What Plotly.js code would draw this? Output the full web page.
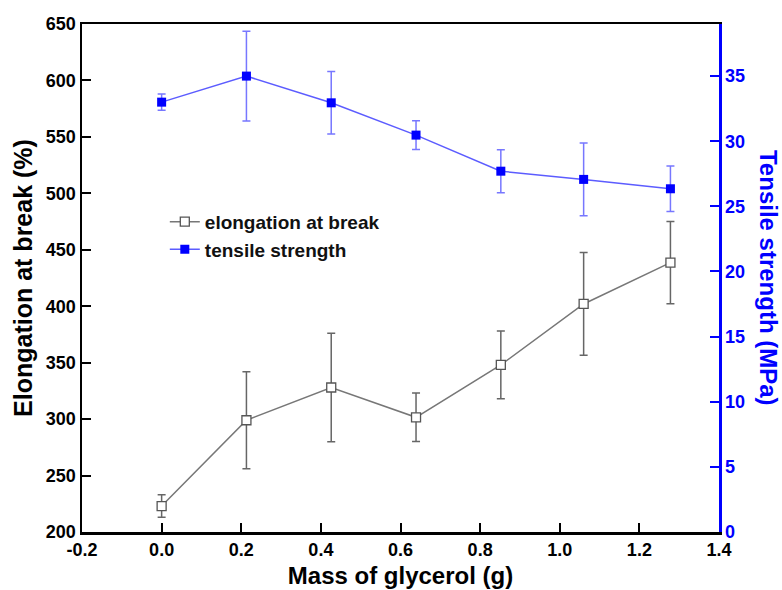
<!DOCTYPE html>
<html>
<head>
<meta charset="utf-8">
<script src="https://cdn.plot.ly/plotly-3.0.1.min.js"></script>
<style>html,body{margin:0;padding:0;background:#fff;}#chart{width:782px;height:590px;}</style>
</head>
<body>
<div id="chart"></div>
<script>
// Data
const mass = [0, 0.213, 0.426, 0.639, 0.852, 1.06, 1.278];
const elongation = [223, 299, 328, 301.6, 348, 402, 438.6];
const elongationErr = [10, 43, 48, 21.5, 30, 45.5, 36.4];
const tensile = [33.0, 35.0, 32.95, 30.47, 27.7, 27.07, 26.35];
const tensileErr = [0.62, 3.45, 2.4, 1.1, 1.65, 2.8, 1.74];

const leftTicks = [200, 250, 300, 350, 400, 450, 500, 550, 600, 650];
const rightTicks = [0, 5, 10, 15, 20, 25, 30, 35];
const xTicks = [-0.2, 0.0, 0.2, 0.4, 0.6, 0.8, 1.0, 1.2, 1.4];

const FONT = 'Liberation Sans, Arial, sans-serif';
const BLUE = '#0000ff';

const traces = [
  {
    x: mass, y: elongation, name: 'elongation at break', type: 'scatter', mode: 'lines+markers',
    line: {color: '#777777', width: 1.5},
    marker: {symbol: 'square', size: 9, color: '#ffffff', line: {color: '#555555', width: 1.3}},
    error_y: {type: 'data', array: elongationErr, visible: true, color: '#666666', thickness: 1.5, width: 4},
    yaxis: 'y'
  },
  {
    x: mass, y: tensile, name: 'tensile strength', type: 'scatter', mode: 'lines+markers',
    line: {color: '#5c5cff', width: 1.5},
    marker: {symbol: 'square', size: 9, color: BLUE},
    error_y: {type: 'data', array: tensileErr, visible: true, color: '#7777ff', thickness: 1.5, width: 4},
    yaxis: 'y2'
  }
];

const layout = {
  width: 782, height: 590,
  margin: {l: 82, r: 63, t: 24, b: 58},
  paper_bgcolor: '#ffffff', plot_bgcolor: '#ffffff',
  font: {family: FONT, size: 18, color: '#000'},
  showlegend: true,
  legend: {
    x: 0.13, y: 0.648, xanchor: 'left', yanchor: 'top',
    bgcolor: 'rgba(0,0,0,0)', borderwidth: 0,
    font: {family: FONT, size: 19, color: '#111', weight: 'bold'},
    tracegroupgap: 0
  },
  xaxis: {
    range: [-0.2, 1.4], tickvals: xTicks, ticktext: xTicks.map(v => v.toFixed(1)),
    showline: true, linecolor: '#000', linewidth: 2.5, mirror: true,
    ticks: 'inside', ticklen: 9, tickwidth: 2, tickcolor: '#000',
    showgrid: false, zeroline: false,
    tickfont: {family: FONT, size: 18, color: '#000', weight: 'bold'},
    title: {text: 'Mass of glycerol (g)', font: {family: FONT, size: 24, color: '#000', weight: 'bold'}, standoff: 8}
  },
  yaxis: {
    range: [200, 650], tickvals: leftTicks,
    showline: true, linecolor: '#000', linewidth: 2.5,
    ticks: 'inside', ticklen: 9, tickwidth: 2, tickcolor: '#000',
    showgrid: false, zeroline: false,
    tickfont: {family: FONT, size: 18, color: '#000', weight: 'bold'},
    title: {text: 'Elongation at break (%)', font: {family: FONT, size: 25, color: '#000', weight: 'bold'}, standoff: 6}
  },
  yaxis2: {
    range: [0, 39], tickvals: rightTicks, overlaying: 'y', side: 'right',
    showline: true, linecolor: BLUE, linewidth: 2.5,
    ticks: 'inside', ticklen: 9, tickwidth: 2, tickcolor: BLUE,
    showgrid: false, zeroline: false,
    tickfont: {family: FONT, size: 18, color: BLUE, weight: 'bold'}
  },
  annotations: [{
    text: 'Tensile strength (MPa)', textangle: 90, showarrow: false,
    xref: 'paper', yref: 'paper', x: 1.0785, y: 0.5, xanchor: 'center', yanchor: 'middle',
    font: {family: FONT, size: 24, color: BLUE, weight: 'bold'}
  }]
};

Plotly.newPlot('chart', traces, layout, {displayModeBar: false, staticPlot: true});
</script>
</body>
</html>
